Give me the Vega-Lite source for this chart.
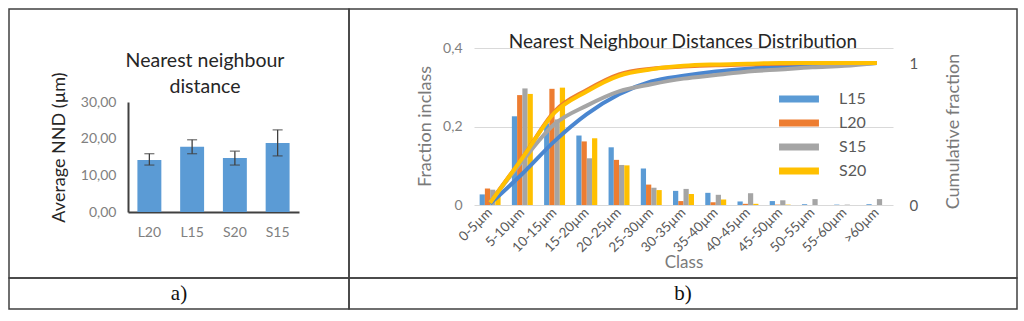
{
  "$schema": "https://vega.github.io/schema/vega-lite/v6.json",
  "padding": {"left": 8, "top": 8, "right": 0, "bottom": 0},
  "background": "white",
  "config": {
    "locale": {"number": {"decimal": ",", "thousands": ".", "grouping": [3], "currency": ["", " €"]}},
    "view": {"stroke": "#404040", "strokeWidth": 1.5},
    "font": "Lato",
    "concat": {"spacing": 0}
  },
  "datasets": {
    "nnd": [
      {"sample": "L20", "mean": 14.2, "lo": 12.8, "hi": 15.9},
      {"sample": "L15", "mean": 17.8, "lo": 15.9, "hi": 19.7},
      {"sample": "S20", "mean": 14.7, "lo": 12.8, "hi": 16.6},
      {"sample": "S15", "mean": 18.8, "lo": 15.3, "hi": 22.4}
    ],
    "dist": [
      {"cls": "0-5µm", "series": "L15", "frac": 0.027, "cum": 0.01},
      {"cls": "0-5µm", "series": "L20", "frac": 0.042, "cum": 0.02},
      {"cls": "0-5µm", "series": "S15", "frac": 0.039, "cum": 0.02},
      {"cls": "0-5µm", "series": "S20", "frac": 0.026, "cum": 0.015},
      {"cls": "5-10µm", "series": "L15", "frac": 0.226, "cum": 0.22},
      {"cls": "5-10µm", "series": "L20", "frac": 0.28, "cum": 0.33},
      {"cls": "5-10µm", "series": "S15", "frac": 0.297, "cum": 0.31},
      {"cls": "5-10µm", "series": "S20", "frac": 0.283, "cum": 0.33},
      {"cls": "10-15µm", "series": "L15", "frac": 0.208, "cum": 0.45},
      {"cls": "10-15µm", "series": "L20", "frac": 0.296, "cum": 0.66},
      {"cls": "10-15µm", "series": "S15", "frac": 0.218, "cum": 0.57},
      {"cls": "10-15µm", "series": "S20", "frac": 0.299, "cum": 0.65},
      {"cls": "15-20µm", "series": "L15", "frac": 0.177, "cum": 0.64},
      {"cls": "15-20µm", "series": "L20", "frac": 0.162, "cum": 0.81},
      {"cls": "15-20µm", "series": "S15", "frac": 0.119, "cum": 0.7},
      {"cls": "15-20µm", "series": "S20", "frac": 0.17, "cum": 0.8},
      {"cls": "20-25µm", "series": "L15", "frac": 0.147, "cum": 0.78},
      {"cls": "20-25µm", "series": "L20", "frac": 0.115, "cum": 0.92},
      {"cls": "20-25µm", "series": "S15", "frac": 0.102, "cum": 0.8},
      {"cls": "20-25µm", "series": "S20", "frac": 0.101, "cum": 0.91},
      {"cls": "25-30µm", "series": "L15", "frac": 0.093, "cum": 0.87},
      {"cls": "25-30µm", "series": "L20", "frac": 0.052, "cum": 0.96},
      {"cls": "25-30µm", "series": "S15", "frac": 0.044, "cum": 0.85},
      {"cls": "25-30µm", "series": "S20", "frac": 0.038, "cum": 0.955},
      {"cls": "30-35µm", "series": "L15", "frac": 0.036, "cum": 0.91},
      {"cls": "30-35µm", "series": "L20", "frac": 0.01, "cum": 0.975},
      {"cls": "30-35µm", "series": "S15", "frac": 0.041, "cum": 0.89},
      {"cls": "30-35µm", "series": "S20", "frac": 0.028, "cum": 0.98},
      {"cls": "35-40µm", "series": "L15", "frac": 0.031, "cum": 0.94},
      {"cls": "35-40µm", "series": "L20", "frac": 0.007, "cum": 0.985},
      {"cls": "35-40µm", "series": "S15", "frac": 0.026, "cum": 0.915},
      {"cls": "35-40µm", "series": "S20", "frac": 0.014, "cum": 0.99},
      {"cls": "40-45µm", "series": "L15", "frac": 0.009, "cum": 0.96},
      {"cls": "40-45µm", "series": "L20", "frac": 0.003, "cum": 0.99},
      {"cls": "40-45µm", "series": "S15", "frac": 0.03, "cum": 0.94},
      {"cls": "40-45µm", "series": "S20", "frac": 0.003, "cum": 0.995},
      {"cls": "45-50µm", "series": "L15", "frac": 0.01, "cum": 0.975},
      {"cls": "45-50µm", "series": "L20", "frac": 0.001, "cum": 0.995},
      {"cls": "45-50µm", "series": "S15", "frac": 0.012, "cum": 0.955},
      {"cls": "45-50µm", "series": "S20", "frac": 0.001, "cum": 1.0},
      {"cls": "50-55µm", "series": "L15", "frac": 0.002, "cum": 0.985},
      {"cls": "50-55µm", "series": "L20", "frac": 0.0, "cum": 1.0},
      {"cls": "50-55µm", "series": "S15", "frac": 0.015, "cum": 0.97},
      {"cls": "50-55µm", "series": "S20", "frac": 0.0, "cum": 1.0},
      {"cls": "55-60µm", "series": "L15", "frac": 0.001, "cum": 0.99},
      {"cls": "55-60µm", "series": "L20", "frac": 0.0, "cum": 1.0},
      {"cls": "55-60µm", "series": "S15", "frac": 0.001, "cum": 0.98},
      {"cls": "55-60µm", "series": "S20", "frac": 0.0, "cum": 1.0},
      {"cls": ">60µm", "series": "L15", "frac": 0.002, "cum": 1.0},
      {"cls": ">60µm", "series": "L20", "frac": 0.0, "cum": 1.0},
      {"cls": ">60µm", "series": "S15", "frac": 0.015, "cum": 1.0},
      {"cls": ">60µm", "series": "S20", "frac": 0.0, "cum": 1.0}
    ]
  },
  "bounds": "flush",
  "spacing": 0,
  "columns": 2,
  "concat": [
    {
      "width": 340,
      "height": 269,
      "data": {"name": "nnd"},
      "title": {"text": ["Nearest neighbour", "distance"], "anchor": "middle", "fontSize": 19.5, "fontWeight": "normal", "color": "#262626", "lineHeight": 26, "dx": 26, "dy": 88, "offset": 0},
      "encoding": {
        "x": {"field": "sample", "type": "nominal", "sort": null,
          "scale": {"range": [119, 290], "paddingInner": 0.44, "paddingOuter": 0.22},
          "axis": {"title": null, "domain": true, "domainColor": "#404040", "domainWidth": 2, "ticks": false, "labelAngle": 0, "labelFontSize": 14, "labelColor": "#808080", "labelPadding": 13, "offset": -66}}
      },
      "layer": [
        {"mark": {"type": "bar", "color": "#5B9BD5"},
         "encoding": {"y": {"field": "mean", "type": "quantitative",
           "scale": {"domain": [0, 30], "range": [203, 93]},
           "axis": {"title": "Average NND (µm)", "values": [0, 10, 20, 30], "format": ".2f", "grid": false, "domain": true, "domainColor": "#404040", "domainWidth": 2, "ticks": false, "labelFontSize": 14, "labelColor": "#808080", "labelPadding": 12, "offset": -119, "titleFontSize": 18, "titleColor": "#262626", "titleFontWeight": "normal", "titleX": -64, "titleY": 138, "titleAngle": -90, "titleBaseline": "alphabetic", "titleAlign": "center"}}}},
        {"mark": {"type": "rule", "color": "#404040", "strokeWidth": 1.3},
         "encoding": {"y": {"field": "lo", "type": "quantitative", "title": "Average NND (µm)"}, "y2": {"field": "hi"}}},
        {"mark": {"type": "tick", "color": "#404040", "size": 10, "thickness": 1.3},
         "encoding": {"y": {"field": "lo", "type": "quantitative", "title": "Average NND (µm)"}}},
        {"mark": {"type": "tick", "color": "#404040", "size": 10, "thickness": 1.3},
         "encoding": {"y": {"field": "hi", "type": "quantitative", "title": "Average NND (µm)"}}}
      ]
    },
    {
      "width": 668,
      "height": 269,
      "data": {"name": "dist"},
      "title": {"text": "Nearest Neighbour Distances Distribution", "anchor": "middle", "fontSize": 19, "fontWeight": "normal", "color": "#262626", "dy": 43, "offset": 0},
      "encoding": {
        "x": {"field": "cls", "type": "nominal",
          "sort": ["0-5µm", "5-10µm", "10-15µm", "15-20µm", "20-25µm", "25-30µm", "30-35µm", "35-40µm", "40-45µm", "45-50µm", "50-55µm", "55-60µm", ">60µm"],
          "scale": {"range": [125, 544], "paddingInner": 0.35, "paddingOuter": 0.175},
          "axis": {"title": "Class", "titleFontSize": 17, "titleColor": "#7a7a7a", "titleFontWeight": "normal", "titleY": 62, "titleBaseline": "alphabetic", "labelAngle": -45, "labelAlign": "right", "labelBaseline": "middle", "labelFontSize": 13.5, "labelColor": "#595959", "labelPadding": 5, "domain": false, "ticks": false, "offset": -73}}
      },
      "layer": [
        {"mark": {"type": "bar"},
         "encoding": {
           "xOffset": {"field": "series", "type": "nominal", "sort": ["L15", "L20", "S15", "S20"]},
           "y": {"field": "frac", "type": "quantitative",
             "scale": {"domain": [0, 0.4], "range": [196, 39]},
             "axis": {"title": "Fraction inclass", "values": [0, 0.2, 0.4], "format": "~g", "grid": true, "gridColor": "#d9d9d9", "gridWidth": 1.2, "domain": false, "ticks": false, "labelFontSize": 14, "labelColor": "#808080", "labelPadding": 12, "offset": -125, "titleFontSize": 18, "titleColor": "#7a7a7a", "titleFontWeight": "normal", "titleX": -44, "titleY": 117, "titleAngle": -90, "titleBaseline": "alphabetic", "titleAlign": "center"}},
           "fill": {"field": "series", "type": "nominal",
             "scale": {"domain": ["L15", "L20", "S15", "S20"], "range": ["#5B9BD5", "#ED7D31", "#A5A5A5", "#FFC000"]},
             "legend": {"title": null, "orient": "none", "legendX": 775, "legendY": 75, "symbolType": "M-1.33,-0.24H1.33V0.24H-1.33Z", "symbolSize": 900, "symbolStrokeWidth": 0, "labelFontSize": 16, "labelColor": "#595959", "labelOffset": 25, "rowPadding": 1}}
         }},
        {"mark": {"type": "line", "strokeWidth": 4, "interpolate": "monotone"},
         "encoding": {
           "y": {"field": "cum", "type": "quantitative",
             "scale": {"domain": [0, 1], "range": [196, 54]},
             "axis": {"orient": "right", "title": "Cumulative fraction", "values": [0, 1], "format": "~g", "grid": false, "domain": false, "ticks": false, "labelFontSize": 15, "labelColor": "#595959", "labelPadding": 16, "offset": -124, "titleFontSize": 18, "titleColor": "#7a7a7a", "titleFontWeight": "normal", "titleX": 65, "titleY": 122, "titleAngle": -90, "titleBaseline": "alphabetic", "titleAlign": "center"}},
           "stroke": {"field": "series", "type": "nominal", "legend": null,
             "scale": {"domain": ["L15", "L20", "S15", "S20"], "range": ["#4A86D0", "#ED7D31", "#A5A5A5", "#FFC000"]}}
         }}
      ],
      "resolve": {"scale": {"y": "independent"}}
    },
    {
      "width": 340,
      "height": 31,
      "data": {"values": [{"c": "a)"}]},
      "mark": {"type": "text", "font": "Liberation Serif", "fontSize": 21, "color": "#111111"},
      "encoding": {
        "text": {"field": "c"},
        "x": {"field": "c", "type": "nominal", "axis": null},
        "y": {"field": "c", "type": "nominal", "axis": null}
      }
    },
    {
      "width": 668,
      "height": 31,
      "data": {"values": [{"c": "b)"}]},
      "mark": {"type": "text", "font": "Liberation Serif", "fontSize": 21, "color": "#111111"},
      "encoding": {
        "text": {"field": "c"},
        "x": {"field": "c", "type": "nominal", "axis": null},
        "y": {"field": "c", "type": "nominal", "axis": null}
      }
    }
  ]
}
